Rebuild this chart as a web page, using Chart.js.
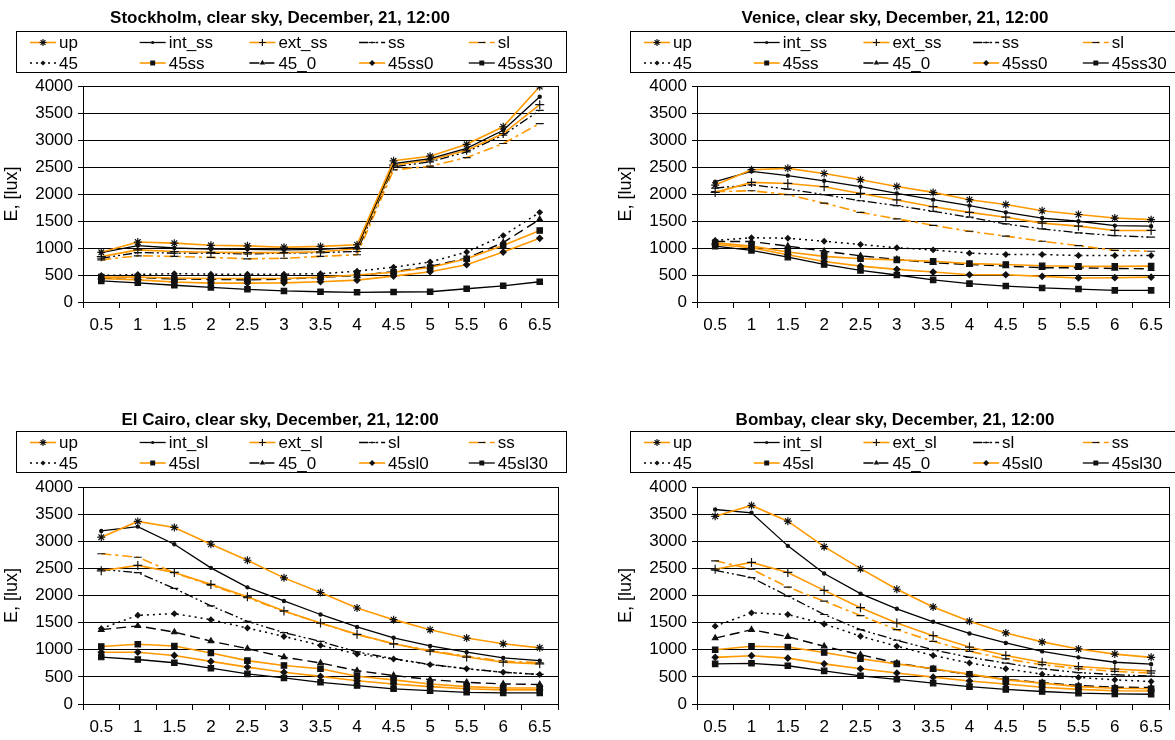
<!DOCTYPE html>
<html>
<head>
<meta charset="utf-8">
<script src="https://cdn.jsdelivr.net/npm/chart.js@4.4.1/dist/chart.umd.min.js"></script>
<style>
  body { margin: 0; background: #fff; width: 1175px; height: 740px; overflow: hidden; position: relative; }
  canvas { position: absolute; }
</style>
</head>
<body>
<canvas id="chartStockholm" width="590" height="370" style="left:0;top:0"></canvas>
<canvas id="chartVenice" width="585" height="370" style="left:590px;top:0"></canvas>
<canvas id="chartCairo" width="590" height="340" style="left:0;top:400px"></canvas>
<canvas id="chartBombay" width="585" height="340" style="left:590px;top:400px"></canvas>
<script>
const xLabels = ['0.5', '1', '1.5', '2', '2.5', '3', '3.5', '4', '4.5', '5', '5.5', '6', '6.5'];
const namesSS = ['up', 'int_ss', 'ext_ss', 'ss', 'sl', '45', '45ss', '45_0', '45ss0', '45ss30'];
const namesSL = ['up', 'int_sl', 'ext_sl', 'sl', 'ss', '45', '45sl', '45_0', '45sl0', '45sl30'];
const yTicks = [0, 500, 1000, 1500, 2000, 2500, 3000, 3500, 4000];

// Stockholm
const stoUp     = [920, 1110, 1090, 1050, 1040, 1015, 1030, 1060, 2615, 2700, 2920, 3245, 3990];
const stoIntSS  = [915, 1045, 1000, 980, 975, 965, 975, 1010, 2565, 2655, 2845, 3180, 3800];
const stoExtSS  = [840, 965, 935, 920, 915, 915, 930, 985, 2535, 2630, 2810, 3120, 3655];
const stoSS     = [810, 915, 905, 905, 890, 905, 915, 935, 2505, 2595, 2780, 3090, 3550];
const stoSL     = [780, 855, 845, 825, 800, 810, 845, 875, 2445, 2515, 2675, 2935, 3305];
const sto45     = [490, 510, 525, 515, 515, 515, 525, 570, 645, 740, 925, 1230, 1660];
const sto45ss   = [460, 460, 445, 435, 435, 435, 460, 500, 550, 640, 800, 1045, 1325];
const sto45_0   = [455, 455, 425, 420, 410, 425, 455, 490, 560, 660, 810, 1100, 1530];
const sto45ss0  = [435, 410, 370, 350, 350, 355, 375, 405, 480, 560, 690, 925, 1180];
const sto45ss30 = [390, 355, 310, 270, 235, 205, 190, 180, 185, 190, 245, 300, 375];

// Venice
const venUp     = [2165, 2450, 2475, 2380, 2265, 2140, 2030, 1895, 1805, 1690, 1620, 1555, 1525];
const venIntSS  = [2230, 2420, 2340, 2245, 2135, 2010, 1895, 1785, 1660, 1555, 1495, 1415, 1405];
const venExtSS  = [2030, 2215, 2195, 2135, 2010, 1890, 1765, 1660, 1570, 1460, 1405, 1325, 1325];
const venSS     = [2110, 2170, 2090, 1990, 1875, 1785, 1680, 1570, 1445, 1355, 1280, 1230, 1200];
const venSL     = [2045, 2060, 1990, 1830, 1660, 1540, 1420, 1310, 1220, 1125, 1045, 955, 940];
const ven45     = [1140, 1190, 1180, 1125, 1065, 1005, 965, 905, 880, 880, 860, 860, 860];
const ven45ss   = [1095, 1035, 925, 845, 800, 780, 755, 710, 695, 670, 660, 660, 665];
const ven45_0   = [1120, 1120, 1035, 940, 855, 790, 725, 695, 665, 635, 635, 620, 615];
const ven45ss0  = [1065, 1005, 875, 750, 665, 605, 555, 505, 505, 475, 445, 450, 460];
const ven45ss30 = [1035, 955, 830, 695, 585, 500, 410, 340, 295, 260, 240, 215, 215];

// El Cairo
const caiUp     = [3075, 3365, 3255, 2945, 2650, 2325, 2055, 1770, 1555, 1370, 1215, 1110, 1035];
const caiIntSL  = [3190, 3270, 2945, 2510, 2150, 1900, 1650, 1420, 1220, 1070, 955, 850, 800];
const caiExtSL  = [2455, 2555, 2425, 2205, 1975, 1715, 1495, 1285, 1110, 975, 865, 770, 740];
const caiSL     = [2480, 2420, 2130, 1810, 1525, 1315, 1155, 960, 835, 730, 650, 585, 545];
const caiSS     = [2770, 2705, 2420, 2190, 1960, 1710, 1490, 1280, 1110, 985, 880, 790, 760];
const cai45     = [1390, 1635, 1665, 1555, 1400, 1245, 1080, 920, 830, 725, 650, 585, 545];
const cai45sl   = [1060, 1100, 1070, 940, 800, 710, 650, 510, 445, 370, 320, 295, 295];
const cai45_0   = [1370, 1440, 1325, 1160, 1020, 865, 755, 615, 525, 450, 400, 370, 360];
const cai45sl0  = [955, 955, 895, 785, 680, 585, 510, 430, 370, 320, 280, 260, 260];
const cai45sl30 = [865, 820, 760, 660, 555, 480, 400, 340, 280, 245, 215, 205, 205];

// Bombay
const bomUp     = [3460, 3660, 3370, 2900, 2495, 2115, 1790, 1525, 1310, 1145, 1015, 920, 860];
const bomIntSL  = [3585, 3525, 2915, 2405, 2035, 1755, 1515, 1300, 1125, 970, 860, 770, 735];
const bomExtSL  = [2485, 2610, 2425, 2095, 1775, 1495, 1260, 1050, 895, 770, 690, 645, 610];
const bomSL     = [2465, 2330, 1990, 1650, 1370, 1175, 1000, 860, 755, 650, 580, 540, 515];
const bomSS     = [2640, 2485, 2155, 1895, 1630, 1370, 1155, 970, 830, 725, 650, 600, 570];
const bom45     = [1435, 1680, 1650, 1475, 1250, 1065, 895, 755, 650, 550, 490, 445, 415];
const bom45sl   = [1000, 1065, 1050, 950, 835, 740, 650, 550, 445, 385, 320, 290, 280];
const bom45_0   = [1215, 1370, 1240, 1065, 910, 755, 645, 540, 455, 395, 340, 310, 305];
const bom45sl0  = [860, 890, 845, 740, 650, 570, 495, 425, 370, 310, 270, 245, 240];
const bom45sl30 = [740, 750, 705, 610, 520, 455, 385, 320, 270, 230, 200, 185, 180];

const FONT = '"Liberation Sans", Arial, sans-serif';
const ORANGE = '#FF9900';

// same look for each series position in every panel
const seriesStyle = [
    { color: ORANGE, width: 1.6, dash: [], point: 'star', r: 4 },
    { color: '#000', width: 1.3, dash: [], point: 'circle', r: 1.6 },
    { color: ORANGE, width: 1.6, dash: [], point: 'cross', r: 4.5 },
    { color: '#000', width: 1.3, dash: [9, 3, 2, 3, 2, 3], point: 'line', r: 4 },
    { color: ORANGE, width: 1.6, dash: [10, 4, 3, 4], point: 'line', r: 4 },
    { color: '#000', width: 1.5, dash: [2, 4], point: 'rectRot', r: 2.6 },
    { color: ORANGE, width: 1.6, dash: [], point: 'rect', r: 3.8 },
    { color: '#000', width: 1.4, dash: [10, 5], point: 'triangle', r: 3.2 },
    { color: ORANGE, width: 1.6, dash: [], point: 'rectRot', r: 3 },
    { color: '#000', width: 1.3, dash: [], point: 'rect', r: 3.8 }
];

function drawMarker(ctx, style, r, x, y) {
    ctx.beginPath();
    if (style === 'circle') {
        ctx.arc(x, y, r, 0, Math.PI * 2);
        ctx.fill();
    } else if (style === 'rect') {
        const s = r * Math.SQRT1_2;
        ctx.fillRect(x - s, y - s, 2 * s, 2 * s);
    } else if (style === 'rectRot') {
        ctx.moveTo(x, y - r); ctx.lineTo(x + r, y); ctx.lineTo(x, y + r); ctx.lineTo(x - r, y);
        ctx.closePath();
        ctx.fill();
    } else if (style === 'triangle') {
        ctx.moveTo(x, y - r); ctx.lineTo(x + r * 0.87, y + r * 0.5); ctx.lineTo(x - r * 0.87, y + r * 0.5);
        ctx.closePath();
        ctx.fill();
    } else if (style === 'cross') {
        ctx.moveTo(x - r, y); ctx.lineTo(x + r, y);
        ctx.moveTo(x, y - r); ctx.lineTo(x, y + r);
        ctx.stroke();
    } else if (style === 'star') {
        const d = r * 0.7;
        ctx.moveTo(x - r, y); ctx.lineTo(x + r, y);
        ctx.moveTo(x, y - r); ctx.lineTo(x, y + r);
        ctx.moveTo(x - d, y - d); ctx.lineTo(x + d, y + d);
        ctx.moveTo(x - d, y + d); ctx.lineTo(x + d, y - d);
        ctx.stroke();
    } else if (style === 'line') {
        ctx.moveTo(x - r, y); ctx.lineTo(x + r, y);
        ctx.stroke();
    }
}

// title, boxed legend and plot frame drawn on the canvas
function framePlugin(cfg) {
    return {
        id: 'frame',
        beforeDatasetsDraw(chart) {
            const a = chart.chartArea;
            const ctx = chart.ctx;
            ctx.save();
            ctx.strokeStyle = '#000';
            ctx.lineWidth = 1;
            ctx.beginPath();
            ctx.moveTo(Math.round(a.right) + 0.5, a.top);
            ctx.lineTo(Math.round(a.right) + 0.5, a.bottom);
            ctx.stroke();
            ctx.restore();
        },
        afterDraw(chart) {
            const ctx = chart.ctx;
            ctx.save();
            ctx.fillStyle = '#000';
            ctx.textBaseline = 'middle';
            ctx.textAlign = 'center';
            ctx.font = 'bold 17px ' + FONT;
            ctx.fillText(cfg.title, cfg.titleX, cfg.titleY);

            ctx.strokeStyle = '#000';
            ctx.lineWidth = 1;
            ctx.strokeRect(cfg.boxX + 0.5, cfg.boxY + 0.5, 550, 41);

            ctx.font = '17px ' + FONT;
            ctx.textAlign = 'left';
            chart.data.datasets.forEach((ds, i) => {
                const st = seriesStyle[i];
                const x = cfg.boxX + 14 + (i % 5) * 109.7;
                const y = cfg.boxY + 11.5 + Math.floor(i / 5) * 20.5;
                ctx.strokeStyle = st.color;
                ctx.lineWidth = st.width;
                ctx.setLineDash(st.dash);
                ctx.beginPath();
                ctx.moveTo(x, y);
                ctx.lineTo(x + 26, y);
                ctx.stroke();
                ctx.setLineDash([]);
                ctx.fillStyle = '#111';
                ctx.strokeStyle = '#111';
                ctx.lineWidth = 1.2;
                drawMarker(ctx, st.point, Math.min(st.r, 3.5), x + 13, y);
                ctx.fillStyle = '#000';
                ctx.fillText(ds.label, x + 29, y + 1);
            });
            ctx.restore();
        }
    };
}

function makeChart(id, cfg, names, series) {
    const datasets = series.map((vals, i) => {
        const st = seriesStyle[i];
        return {
            label: names[i],
            data: vals,
            borderColor: st.color,
            borderWidth: st.width,
            borderDash: st.dash,
            pointStyle: st.point,
            pointRadius: st.r,
            pointBackgroundColor: '#111',
            pointBorderColor: '#111',
            pointBorderWidth: 1.2,
            tension: 0,
            fill: false
        };
    });

    return new Chart(document.getElementById(id), {
        type: 'line',
        data: { labels: xLabels, datasets: datasets },
        options: {
            responsive: false,
            animation: false,
            events: [],
            layout: { padding: cfg.padding },
            plugins: {
                legend: { display: false },
                title: { display: false },
                tooltip: { enabled: false }
            },
            scales: {
                x: {
                    offset: true,
                    grid: { offset: true, drawOnChartArea: false, drawTicks: true, tickLength: 6, color: '#000' },
                    border: { color: '#000', width: 1 },
                    ticks: { color: '#000', font: { family: FONT, size: 17 }, padding: 7, maxRotation: 0, autoSkip: false },
                    afterFit: s => { s.height = cfg.xHeight; }
                },
                y: {
                    min: 0,
                    max: 4000,
                    afterBuildTicks: s => { s.ticks = yTicks.map(v => ({ value: v })); },
                    grid: { color: '#000', lineWidth: 1, tickLength: 5 },
                    border: { color: '#000', width: 1 },
                    ticks: { color: '#000', font: { family: FONT, size: 17 }, padding: 5, callback: v => String(v) },
                    title: { display: true, text: 'E, [lux]', color: '#000', font: { family: FONT, size: 18 }, padding: { top: 1, bottom: 1 } },
                    afterFit: s => { s.width = 83; }
                }
            }
        },
        plugins: [framePlugin(cfg)]
    });
}

makeChart('chartStockholm', {
    title: 'Stockholm, clear sky, December, 21, 12:00', titleX: 280, titleY: 18, boxX: 16, boxY: 31,
    padding: { left: 0, top: 86, right: 32, bottom: 28 }, xHeight: 40
}, namesSS, [stoUp, stoIntSS, stoExtSS, stoSS, stoSL, sto45, sto45ss, sto45_0, sto45ss0, sto45ss30]);

makeChart('chartVenice', {
    title: 'Venice, clear sky, December, 21, 12:00', titleX: 305, titleY: 18, boxX: 40, boxY: 31,
    padding: { left: 24, top: 86, right: 2, bottom: 28 }, xHeight: 40
}, namesSS, [venUp, venIntSS, venExtSS, venSS, venSL, ven45, ven45ss, ven45_0, ven45ss0, ven45ss30]);

makeChart('chartCairo', {
    title: 'El Cairo, clear sky, December, 21, 12:00', titleX: 280, titleY: 20, boxX: 16, boxY: 31,
    padding: { left: 0, top: 87, right: 32, bottom: 0 }, xHeight: 36
}, namesSL, [caiUp, caiIntSL, caiExtSL, caiSL, caiSS, cai45, cai45sl, cai45_0, cai45sl0, cai45sl30]);

makeChart('chartBombay', {
    title: 'Bombay, clear sky, December, 21, 12:00', titleX: 305, titleY: 20, boxX: 40, boxY: 31,
    padding: { left: 24, top: 87, right: 2, bottom: 0 }, xHeight: 36
}, namesSL, [bomUp, bomIntSL, bomExtSL, bomSL, bomSS, bom45, bom45sl, bom45_0, bom45sl0, bom45sl30]);
</script>
</body>
</html>
